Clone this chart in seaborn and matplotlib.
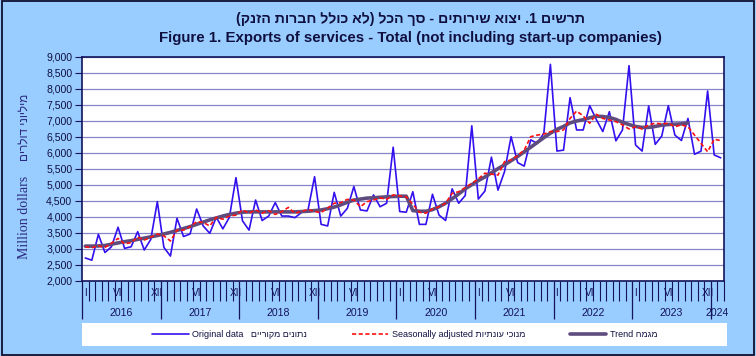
import numpy as np
import pandas as pd
import matplotlib
matplotlib.use('Agg')
import matplotlib.pyplot as plt
from matplotlib.patches import Rectangle
from matplotlib.ticker import FuncFormatter
import seaborn as sns

# Data (million dollars), monthly Jan 2016 - Feb 2024
years = [2016, 2017, 2018, 2019, 2020, 2021, 2022, 2023, 2024]
original = [
    2720, 2650, 3460, 2890, 3070, 3680, 3020, 3070, 3540, 2970, 3300, 4480,
    3050, 2780, 3960, 3390, 3470, 4250, 3720, 3490, 3990, 3630, 3990, 5230,
    3880, 3590, 4530, 3890, 4030, 4450, 4030, 4030, 3980, 4140, 4220, 5260,
    3770, 3720, 4770, 4030, 4270, 4950, 4220, 4190, 4690, 4320, 4430, 6180,
    4170, 4150, 4790, 3770, 3770, 4710, 4060, 3890, 4880, 4430, 4670, 6850,
    4560, 4810, 5870, 4840, 5420, 6510, 5700, 5590, 6410, 6300, 6620, 8770,
    6060, 6090, 7730, 6720, 6720, 7480, 7050, 6670, 7290, 6380, 6720, 8730,
    6250, 6060, 7470, 6270, 6530, 7480, 6560, 6390, 7080, 5960, 6060, 7940,
    5940, 5850,
]
seasonal = [
    3070, 3040, 3100, 3050, 3180, 3330, 3160, 3200, 3370, 3280, 3370, 3470,
    3410, 3250, 3590, 3590, 3700, 3850, 3830, 3720, 3990, 3930, 4030, 4060,
    4220, 4120, 4220, 4120, 4200, 4080, 4170, 4300, 4120, 4170, 4240, 4170,
    4140, 4280, 4430, 4450, 4550, 4530, 4320, 4480, 4530, 4600, 4550, 4690,
    4660, 4630, 4400, 4150, 4120, 4250, 4320, 4430, 4740, 4790, 4920, 5050,
    5190, 5370, 5340, 5310, 5730, 5780, 5920, 6090, 6510, 6560, 6590, 6670,
    6670, 6720, 7080, 7310, 7160, 6930, 7210, 7080, 7030, 6980, 6880, 6750,
    6820, 6750, 6880, 6930, 6910, 6930, 6820, 6880, 6820, 6560, 6300, 6040,
    6430, 6390,
]
trend = [
    3090, 3090, 3095, 3110, 3150, 3190, 3230, 3260, 3300, 3340, 3380, 3420,
    3470, 3520, 3580, 3640, 3700, 3770, 3840, 3910, 3970, 4030, 4080, 4120,
    4150, 4160, 4160, 4160, 4160, 4160, 4160, 4160, 4160, 4170, 4180, 4200,
    4220, 4260, 4310, 4380, 4460, 4530, 4560, 4590, 4600, 4615, 4630, 4640,
    4650, 4650, 4200, 4180, 4180, 4230, 4320, 4430, 4570, 4720, 4880, 5010,
    5140, 5250, 5380, 5510, 5630, 5760, 5890, 6040, 6180, 6330, 6480, 6620,
    6740, 6830, 6940, 7000, 7040, 7100, 7150, 7140, 7110, 7050, 6960, 6890,
    6830, 6800, 6800, 6830, 6870, 6890, 6900, 6910, 6940,
]
# month labels under the axis: (year, month, text)
month_labels = [
    (2016, 1, 'I'), (2016, 6, 'VI'), (2016, 12, 'XII'),
    (2017, 6, 'VI'), (2017, 12, 'XII'),
    (2018, 6, 'VI'), (2018, 12, 'XII'),
    (2019, 6, 'VI'),
    (2020, 1, 'I'), (2020, 6, 'VI'),
    (2021, 1, 'I'), (2021, 6, 'VI'),
    (2022, 1, 'I'), (2022, 6, 'VI'),
    (2023, 1, 'I'), (2023, 6, 'VI'), (2023, 12, 'XII'),
]
title_he = 'תרשים 1. יצוא שירותים - סך הכל (לא כולל חברות הזנק)'
title_en = 'Figure 1. Exports of services - Total (not including start-up companies)'
ylabel_en = 'Million dollars'
ylabel_he = 'מיליוני דולרים'
legend_en = ['Original data', 'Seasonally adjusted', 'Trend']
legend_he = ['נתונים מקוריים', 'מנוכי עונתיות', 'מגמה']


def heb(s):
    # matplotlib has no bidi: put the Hebrew text in visual order
    return s[::-1].translate(str.maketrans('()', ')('))


navy = '#14145a'
sns.set_style('white')
plt.rcParams['font.family'] = ['Liberation Sans', 'DejaVu Sans']

n = len(original)
df = pd.DataFrame({'m': np.arange(n), 'original': original, 'seasonal': seasonal})
df_trend = pd.DataFrame({'m': np.arange(len(trend)), 'trend': trend})

fig = plt.figure(figsize=(7.56, 3.56), dpi=100, facecolor='#99CCFF')
ax = fig.add_axes([82/756, 1 - 281/356, 642/756, 224/356])
ax.set_facecolor('white')

sns.lineplot(data=df, x='m', y='original', ax=ax, color='#3311EE', lw=1.2,
             label=legend_en[0] + '   ' + heb(legend_he[0]), legend=False, zorder=3)
sns.lineplot(data=df, x='m', y='seasonal', ax=ax, color='#FF1010', lw=1.2,
             ls=(0, (2.5, 1.5)), label=legend_en[1] + ' ' + heb(legend_he[1]),
             legend=False, zorder=5)
sns.lineplot(data=df_trend, x='m', y='trend', ax=ax, color='#5E4C7E', lw=2.6,
             label=legend_en[2] + ' ' + heb(legend_he[2]), legend=False, zorder=4)

ax.set_xlim(-0.5, n - 0.5)
ax.set_ylim(2000, 9000)
ax.set_xlabel('')
ax.set_ylabel('')

# y axis
ax.set_yticks(np.arange(2000, 9001, 500))
ax.yaxis.set_major_formatter(FuncFormatter(lambda v, p: f'{v:,.0f}'))
ax.tick_params(axis='y', direction='out', length=5, width=0.8, color=navy,
               labelsize=7.6, labelcolor='#101040', pad=2, left=True)
ax.yaxis.grid(True, color='#8585C8', lw=0.9)
ax.set_axisbelow(True)

# x axis: year separators and month ticks
year_edges = [-0.5 + 12 * k for k in range(len(years))]
ax.set_xticks(year_edges)
ax.set_xticks([k - 0.5 for k in range(n + 1) if (k % 12) != 0], minor=True)
ax.tick_params(axis='x', which='major', direction='out', length=27.5, width=0.9,
               color=navy, labelbottom=False, bottom=True)
ax.tick_params(axis='x', which='minor', direction='out', length=14.5, width=0.8,
               color=navy, bottom=True)

tr = ax.get_xaxis_transform()
for yr, mo, txt in month_labels:
    ax.text((yr - years[0]) * 12 + mo - 1, -0.054, txt, transform=tr, ha='center',
            va='center', fontsize=7.3, color=navy)
for k, yr in enumerate(years):
    lo = year_edges[k]
    hi = min(lo + 12, n - 0.5)
    ax.text((lo + hi) / 2, -0.143, str(yr), transform=tr, ha='center', va='center',
            fontsize=7.6, color=navy)

for s in ax.spines.values():
    s.set_color(navy)
    s.set_linewidth(1.2)

# titles
fig.text(410/756, 1 - 19/356, heb(title_he), ha='center', va='center',
         fontsize=10.2, fontweight='bold', color='#101040')
fig.text(410/756, 1 - 38/356, title_en, ha='center', va='center',
         fontsize=10.8, fontweight='bold', color='#101040')

# y label: English (serif) and Hebrew
fig.text(25/756, 1 - 217/356, ylabel_en, rotation=90, ha='center', va='center',
         fontsize=10, family='Liberation Serif', color='#2a2a80')
fig.text(25/756, 1 - 127/356, heb(ylabel_he), rotation=90, ha='center', va='center',
         fontsize=8.5, color='#2a2a80')

# legend box
fig.patches.append(Rectangle((82/756, 1 - 346/356), 645/756, 23/356,
                             transform=fig.transFigure, facecolor='white',
                             edgecolor='none', zorder=0))
handles, labels = ax.get_legend_handles_labels()
fig.legend(handles, labels, loc='center', bbox_to_anchor=(405/756, 1 - 334.5/356),
           ncol=3, frameon=False, fontsize=6.5, handlelength=4, handletextpad=0.4,
           columnspacing=5, labelcolor='#101040')

# outer frame
fig.patches.append(Rectangle((0.002, 0.003), 0.996, 0.994, transform=fig.transFigure,
                             fill=False, edgecolor='#101030', lw=1.3))

fig.savefig('out.png', dpi=100, facecolor=fig.get_facecolor())
